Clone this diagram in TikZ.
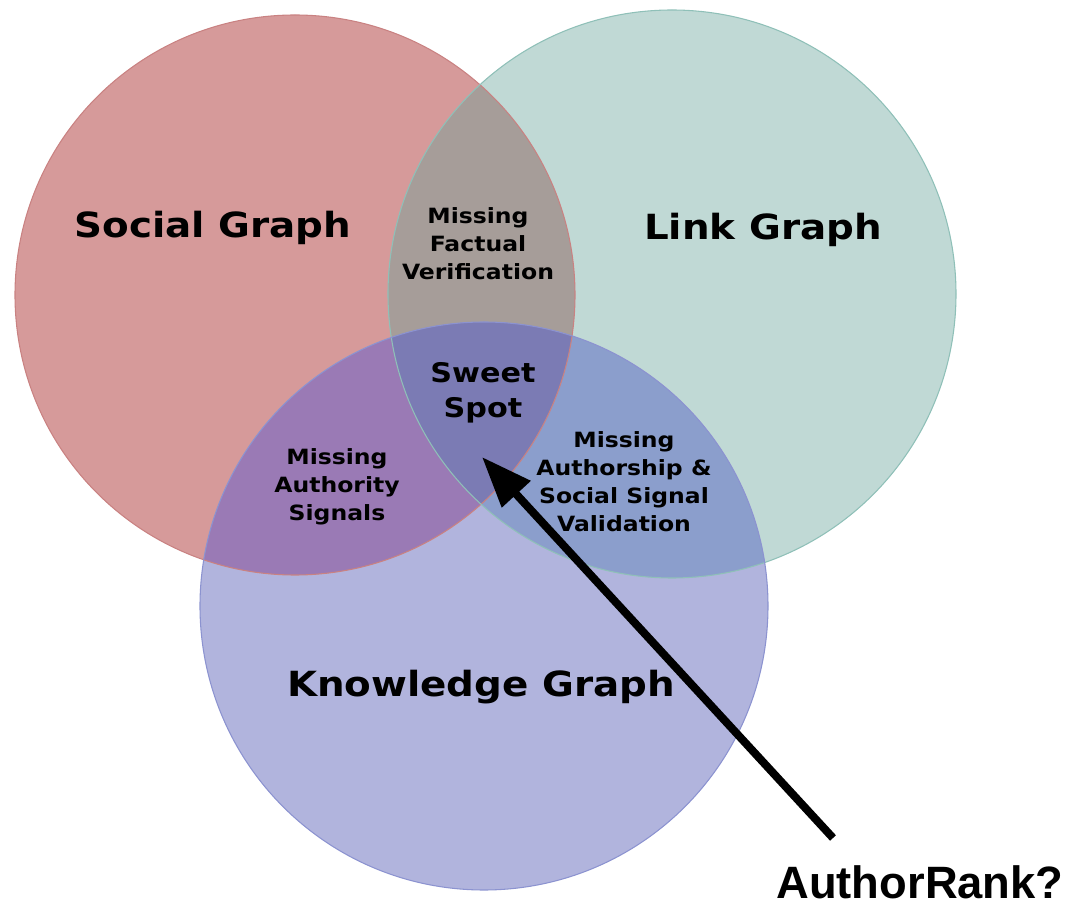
\documentclass[tikz,border=0pt]{standalone}
\usepackage{fontspec}
\setmainfont{DejaVu Sans}[FakeStretch=1.12]
\newfontfamily\arialfont{Liberation Sans}
\usetikzlibrary{arrows.meta}
% circle fills
\definecolor{socialfill}{HTML}{D69A9A}
\definecolor{linkfill}{HTML}{C0D9D5}
\definecolor{knowfill}{HTML}{B1B4DD}
% overlaps
\definecolor{socialink}{HTML}{A69D99}
\definecolor{socialknow}{HTML}{9A7AB5}
\definecolor{linkknow}{HTML}{8B9ECC}
\definecolor{allthree}{HTML}{7B7BB4}
% rims
\definecolor{socialrim}{HTML}{C98282}
\definecolor{linkrim}{HTML}{8FC0B8}
\definecolor{knowrim}{HTML}{8C93D0}
\begin{document}
\begin{tikzpicture}[x=0.75pt,y=-0.75pt,
  biglabel/.style={font=\bfseries\fontsize{26}{30}\selectfont, anchor=base, inner sep=0pt},
  smalllabel/.style={font=\bfseries\fontsize{15.75}{21}\selectfont, align=center, inner sep=0pt},
  sweetlabel/.style={font=\bfseries\fontsize{20.25}{26}\selectfont, align=center, inner sep=0pt},
  rim/.style={line width=0.8pt},
  pointer/.style={line width=6pt, -{Triangle[length=38pt,width=28pt]}}]
\useasboundingbox (0,0) rectangle (1076,912);

\coordinate (cS) at (295,295);
\coordinate (cL) at (672,294);
\coordinate (cK) at (484,606);

% base discs
\fill[socialfill] (cS) circle[radius=280];
\fill[linkfill] (cL) circle[radius=284];
\fill[knowfill] (cK) circle[radius=284];

% pairwise overlaps
\begin{scope}
  \clip (cS) circle[radius=280];
  \fill[socialink] (cL) circle[radius=284];
  \fill[socialknow] (cK) circle[radius=284];
\end{scope}
\begin{scope}
  \clip (cL) circle[radius=284];
  \fill[linkknow] (cK) circle[radius=284];
\end{scope}
% common part of all three
\begin{scope}
  \clip (cS) circle[radius=280];
  \clip (cL) circle[radius=284];
  \fill[allthree] (cK) circle[radius=284];
\end{scope}

% rims
\draw[rim, socialrim] (cS) circle[radius=280];
\draw[rim, linkrim] (cL) circle[radius=284];
\draw[rim, knowrim] (cK) circle[radius=284];

% titles
\node[biglabel] (social) at (213,238) {Social Graph};
\node[biglabel] (link) at (763,240) {Link Graph};
\node[biglabel] (know) at (481,697) {Knowledge Graph};

% overlap labels
\node[smalllabel] (factual) at (478,244) {Missing\\Factual\\Verification};
\node[sweetlabel] (sweet) at (483,393) {Sweet\\Spot};
\node[smalllabel] (authority) at (337,487) {Missing\\Authority\\Signals};
\node[smalllabel] (authorship) at (624,482) {Missing\\Authorship \&\\Social Signal\\Validation};

% pointer
\node[font=\arialfont\bfseries\fontsize{34}{40}\selectfont, anchor=base, inner sep=0pt] (rank) at (920,899) {AuthorRank?};
\coordinate (tail) at (833,838);
\coordinate (target) at (482,457);
\draw[pointer] (tail) -- (target);
\end{tikzpicture}
\end{document}
